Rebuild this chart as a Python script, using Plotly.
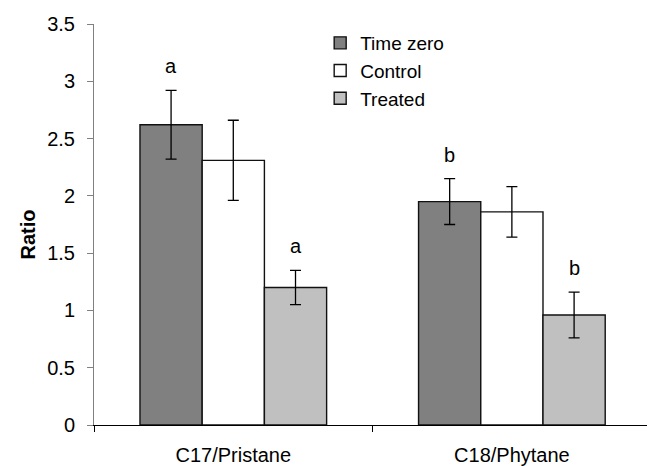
import plotly.graph_objects as go

categories = ["C17/Pristane", "C18/Phytane"]
series_names = ["Time zero", "Control", "Treated"]
time_zero = [2.62, 1.95]
control = [2.31, 1.86]
treated = [1.20, 0.96]
err_time_zero = [0.30, 0.20]
err_control = [0.35, 0.22]
err_treated = [0.15, 0.20]
letters_time_zero = ["a", "b"]
letters_treated = ["a", "b"]

colors = ["#808080", "#FFFFFF", "#C0C0C0"]
FONT = "Liberation Sans, Arial, sans-serif"

fig = go.Figure()
for name, vals, errs, col in zip(series_names, [time_zero, control, treated],
                                 [err_time_zero, err_control, err_treated], colors):
    fig.add_trace(go.Bar(
        name=name, x=categories, y=vals, legendgroup=name,
        marker=dict(color=col, line=dict(color="#111111", width=1.4)),
        error_y=dict(type="data", array=errs, color="black", thickness=1.3, width=5.5),
    ))

bargap = 0.33
bw = (1 - bargap) / 3
letter_offset = 0.21
for i, cat in enumerate(categories):
    fig.add_annotation(x=i - bw, y=time_zero[i] + err_time_zero[i] + letter_offset,
                       xref="x", yref="y", text=letters_time_zero[i], showarrow=False,
                       font=dict(size=20, color="black", family=FONT), yanchor="middle")
    fig.add_annotation(x=i + bw, y=treated[i] + err_treated[i] + letter_offset,
                       xref="x", yref="y", text=letters_treated[i], showarrow=False,
                       font=dict(size=20, color="black", family=FONT), yanchor="middle")

fig.add_annotation(xref="paper", yref="paper", x=0, y=0.5, xshift=-67, yshift=-10,
                   text="<b>Ratio</b>", textangle=-90, showarrow=False,
                   font=dict(size=20, color="black", family=FONT),
                   xanchor="center", yanchor="middle")

fig.update_layout(
    width=647, height=466,
    margin=dict(l=94, r=0, t=24, b=41),
    paper_bgcolor="white", plot_bgcolor="white",
    barmode="group", bargap=bargap, bargroupgap=0,
    font=dict(family=FONT, size=20, color="black"),
    showlegend=True,
    legend=dict(x=0.409, xanchor="left", y=1.0, yanchor="top",
                bgcolor="rgba(0,0,0,0)", font=dict(size=19, family=FONT),
                traceorder="normal", itemclick=False),
    xaxis=dict(range=[-0.5, 1.485], showline=True, linecolor="black", linewidth=1.3,
               ticks="outside", tickson="boundaries", ticklen=6, tickcolor="black",
               tickfont=dict(size=20, family=FONT), showgrid=False, zeroline=False,
               ticklabelstandoff=12),
    yaxis=dict(range=[0, 3.5], dtick=0.5, showline=True, linecolor="#808080", linewidth=1,
               ticks="outside", ticklen=6, tickcolor="#808080",
               tickfont=dict(size=20, family=FONT), showgrid=False, zeroline=False,
               tickformat="~g", ticklabelstandoff=8),
)

fig.write_html("out.html")
